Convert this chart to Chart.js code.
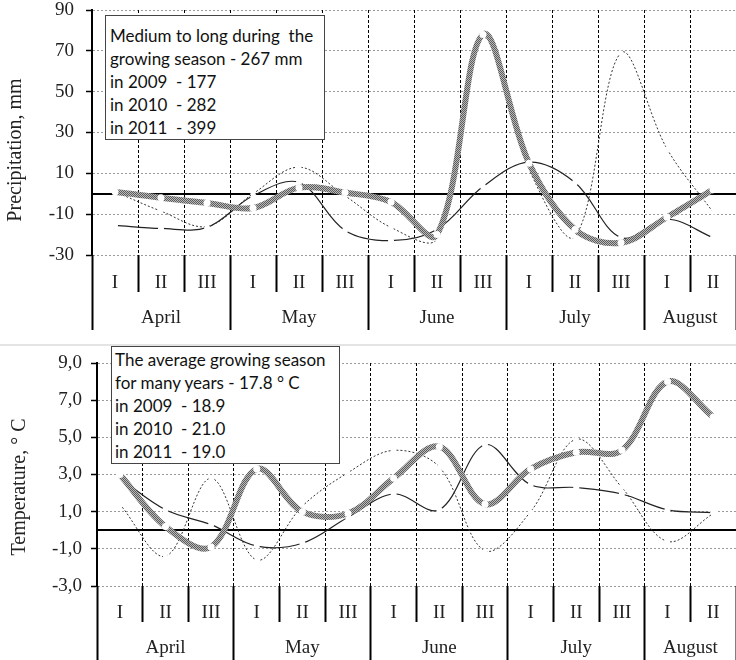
<!DOCTYPE html>
<html>
<head>
<meta charset="utf-8">
<script src="https://cdn.jsdelivr.net/npm/chart.js@4/dist/chart.umd.min.js"></script>
<style>
    html, body {
        margin: 0;
        padding: 0;
        background: #fff;
        overflow: hidden;
        width: 736px;
        height: 660px;
    }

    .panel {
        position: absolute;
        left: 0;
        width: 740px;
    }

    #topPanel { top: 0; height: 330px; }
    #bottomPanel { top: 350px; height: 310px; }

    .note {
        position: absolute;
        background: #fff;
        border: 1px solid #444;
        font-family: Lato, 'Open Sans', sans-serif;
        font-size: 17px;
        line-height: 23px;
        white-space: pre;
        color: #111;
    }

    #noteTop { left: 105px; top: 15px; width: 214px; padding: 8px 0 0 4px; height: 115px; }
    #noteBottom { left: 111px; top: 346px; width: 224px; padding: 1px 0 0 3px; height: 115px; }

    .ytitle {
        position: absolute;
        font-family: 'Liberation Serif', 'Times New Roman', serif;
        font-size: 20px;
        color: #222;
        white-space: nowrap;
        transform: translate(-50%, -50%) rotate(-90deg);
    }

    #divider {
        position: absolute;
        left: 0;
        top: 344px;
        width: 736px;
        border-top: 2px solid #e4e4e4;
    }
</style>
</head>
<body>

<div id="divider"></div>

<div class="panel" id="topPanel">
    <canvas id="precipChart" width="740" height="330"></canvas>
</div>

<div class="panel" id="bottomPanel">
    <canvas id="tempChart" width="740" height="310"></canvas>
</div>

<div class="ytitle" style="left:14px; top:150px;">Precipitation, mm</div>
<div class="ytitle" style="left:18px; top:487px;">Temperature, ° C</div>

<div class="note" id="noteTop">Medium to long during  the
growing season - 267 mm
in 2009  - 177
in 2010  - 282
in 2011  - 399</div>

<div class="note" id="noteBottom">The average growing season
for many years - 17.8 ° C
in 2009  - 18.9
in 2010  - 21.0
in 2011  - 19.0</div>

<script>
// DATA
const decades = ['I', 'II', 'III', 'I', 'II', 'III', 'I', 'II', 'III', 'I', 'II', 'III', 'I', 'II'];
const months = ['April', 'May', 'June', 'July', 'August'];
const decadesPerMonth = [3, 3, 3, 3, 2];

// precipitation, deviation from the long-term mean, mm
const precip2010 = [1, -2, -4.5, -7, 3, 0.6, -4, -20, 78, 15, -17.5, -24, -11.5, 2];
const precip2011 = [1, -8.5, -16, 0, 13, -1, -16.5, -22, 76, 12, -21, 69, 22, -9];
const precip2009 = [-15.5, -17, -16.5, -1, 5.5, -18, -23, -17.5, 3.5, 15.5, 5.5, -21.5, -12.5, -21.5];
const precipTicks = [-30, -10, 10, 30, 50, 70, 90];

// temperature, deviation from the long-term mean, C
const temp2010 = [3.0, 0.2, -0.9, 3.3, 1.0, 0.9, 2.8, 4.5, 1.4, 3.3, 4.2, 4.3, 8.0, 6.1];
const temp2011 = [1.4, -1.4, 2.8, -1.6, 1.3, 3.1, 4.3, 3.4, -1.1, 1.0, 4.9, 2.3, -0.6, 0.9];
const temp2009 = [2.8, 1.1, 0.3, -0.85, -0.7, 0.7, 1.95, 1.1, 4.6, 2.45, 2.3, 1.95, 1.1, 0.95];
const tempTicks = [-3, -1, 1, 3, 5, 7, 9];

const serif = "'Liberation Serif', 'Times New Roman', serif";

// hatched gray for the thick line
function grayPattern() {
    const c = document.createElement('canvas');
    c.width = 2;
    c.height = 2;
    const g = c.getContext('2d');
    g.fillStyle = '#b9b9b9';
    g.fillRect(0, 0, 2, 2);
    g.fillStyle = '#5c5c5c';
    g.fillRect(0, 0, 1, 1);
    g.fillRect(1, 1, 1, 1);
    return g.createPattern(c, 'repeat');
}

// month row: separators on the edges, names in the middle
function monthTicks() {
    const ticks = [];
    let start = -0.5;
    ticks.push({ value: start, label: '' });
    months.forEach((m, i) => {
        const end = start + decadesPerMonth[i];
        ticks.push({ value: (start + end) / 2, label: m });
        ticks.push({ value: end, label: '' });
        start = end;
    });
    return ticks;
}

const isZero = c => c.tick && c.tick.value === 0;

function makeChart(id, d2010, d2011, d2009, cfg) {

    const mTicks = monthTicks();

    return new Chart(document.getElementById(id), {
        type: 'line',
        data: {
            labels: decades,
            datasets: [
                {
                    label: '2010',
                    data: d2010,
                    borderColor: grayPattern(),
                    borderWidth: 6,
                    pointRadius: 3.5,
                    pointBorderWidth: 0,
                    pointBackgroundColor: '#fff',
                    tension: 0.35
                },
                {
                    label: '2011',
                    data: d2011,
                    borderColor: '#333',
                    borderWidth: 1,
                    borderDash: [2, 2],
                    pointRadius: 2.5,
                    pointBorderWidth: 0,
                    pointBackgroundColor: '#fff',
                    tension: 0.35
                },
                {
                    label: '2009',
                    data: d2009,
                    borderColor: '#222',
                    borderWidth: 1.2,
                    pointRadius: 3,
                    pointBorderWidth: 0,
                    pointBackgroundColor: '#fff',
                    tension: 0.35
                }
            ]
        },
        options: {
            responsive: false,
            animation: false,
            layout: { padding: { top: cfg.padTop, bottom: 0, left: 0, right: 0 } },
            plugins: {
                legend: { display: false },
                tooltip: { enabled: false }
            },
            scales: {
                y: {
                    min: cfg.min,
                    max: cfg.max,
                    afterBuildTicks: s => {
                        s.ticks = cfg.ticks.concat([0]).map(v => ({ value: v }));
                    },
                    afterFit: s => {
                        s.width = cfg.axisX;
                        s.paddingTop = 0;
                        s.paddingBottom = 0;
                    },
                    ticks: {
                        callback: v => v === 0 ? '' : cfg.fmt(v),
                        font: { family: serif, size: 19, lineHeight: 1 },
                        color: '#222',
                        padding: cfg.labelPad
                    },
                    grid: {
                        color: c => isZero(c) ? '#000' : '#9a9a9a',
                        lineWidth: c => isZero(c) ? 2 : 1,
                        tickColor: c => isZero(c) ? 'rgba(0,0,0,0)' : '#000',
                        tickLength: 6,
                        tickWidth: 1.5
                    },
                    border: {
                        display: true,
                        color: '#000',
                        width: 2,
                        dash: c => isZero(c) ? [] : [2, 2]
                    }
                },
                x: {
                    type: 'category',
                    position: 'bottom',
                    weight: 1,
                    offset: true,
                    afterFit: s => { s.height = cfg.decadeRow; },
                    ticks: {
                        autoSkip: false,
                        maxRotation: 0,
                        padding: -20,
                        font: { family: serif, size: 19 },
                        color: '#222'
                    },
                    grid: {
                        offset: true,
                        color: '#000',
                        lineWidth: 1,
                        tickColor: '#000',
                        tickWidth: 2,
                        tickLength: cfg.decadeRow,
                        tickBorderDash: []
                    },
                    border: { display: false, dash: [3, 2] }
                },
                xm: {
                    type: 'linear',
                    position: 'bottom',
                    weight: 2,
                    min: -0.5,
                    max: 13.5,
                    afterBuildTicks: s => {
                        s.ticks = mTicks.map(t => ({ value: t.value }));
                    },
                    afterFit: s => { s.height = cfg.monthRow; },
                    ticks: {
                        autoSkip: false,
                        maxRotation: 0,
                        padding: cfg.monthPad,
                        callback: (v, i) => mTicks[i].label,
                        font: { family: serif, size: 19 },
                        color: '#222'
                    },
                    grid: {
                        drawOnChartArea: false,
                        tickColor: c => c.tick && mTicks[c.index] && mTicks[c.index].label ? 'rgba(0,0,0,0)' : '#000',
                        tickWidth: 2,
                        tickLength: cfg.monthRow
                    },
                    border: { display: false }
                }
            }
        }
    });
}

// PRECIPITATION
makeChart('precipChart', precip2010, precip2011, precip2009, {
    min: -30,
    max: 90,
    ticks: precipTicks,
    fmt: v => String(v),
    axisX: 92,
    labelPad: 12,
    padTop: 10,
    decadeRow: 37,
    monthRow: 38,
    monthPad: -23
});

// TEMPERATURE
makeChart('tempChart', temp2010, temp2011, temp2009, {
    min: -3,
    max: 9,
    ticks: tempTicks,
    fmt: v => v.toFixed(1).replace('.', ','),
    axisX: 97,
    labelPad: 9,
    padTop: 13,
    decadeRow: 36,
    monthRow: 38,
    monthPad: -23
});
</script>
</body>
</html>
